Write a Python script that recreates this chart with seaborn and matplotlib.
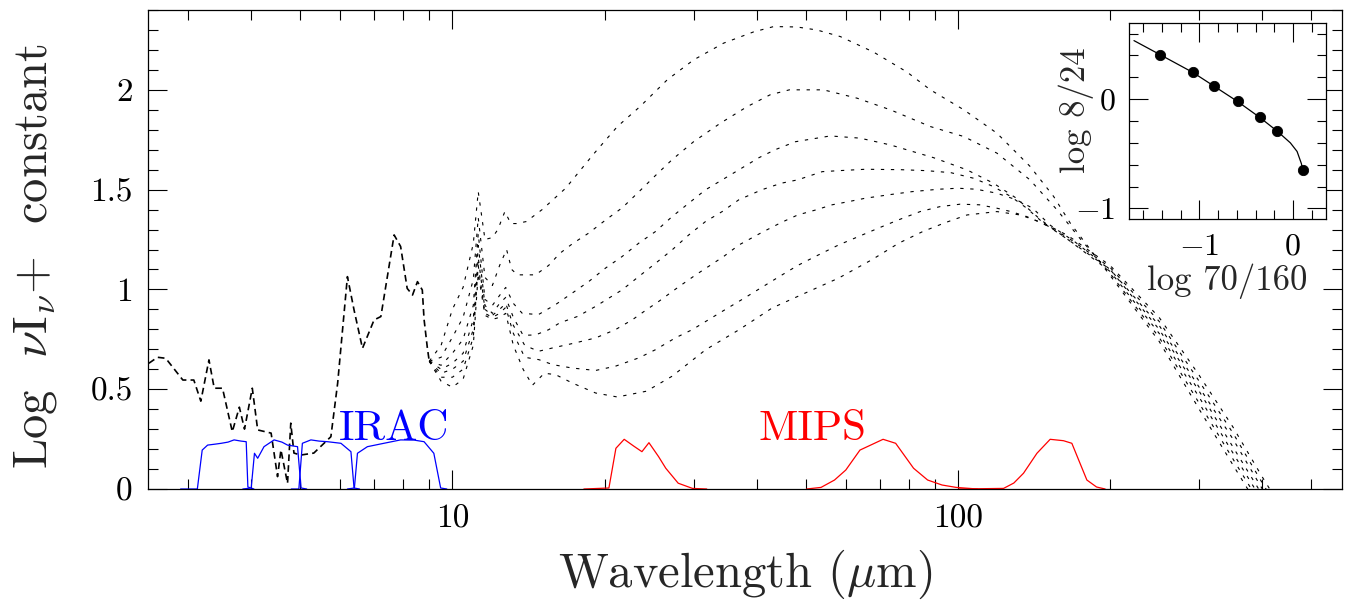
import seaborn as sns
import matplotlib.pyplot as plt
import matplotlib.ticker as mticker

sns.set_style("ticks")
plt.rcParams['font.family'] = ['cmr10', 'DejaVu Serif']
plt.rcParams['mathtext.fontset'] = 'cm'
plt.rcParams['axes.formatter.use_mathtext'] = True
plt.rcParams['axes.unicode_minus'] = False

# --- common short-wavelength part (starlight + PAH), dashed ---
wl_common = [2.51, 2.61, 2.71, 2.93, 3.08, 3.18, 3.30, 3.38, 3.51, 3.67, 3.79, 3.88, 4.02,
             4.12, 4.38, 4.51, 4.58, 4.72, 4.79, 4.86, 5.01, 5.32, 5.75, 5.93, 6.20, 6.39,
             6.64, 7.00, 7.22, 7.67, 7.90, 8.14, 8.34, 8.53, 8.72, 8.79, 8.92, 9.0]
sed_common = [0.63, 0.66, 0.655, 0.546, 0.546, 0.44, 0.647, 0.505, 0.505, 0.287, 0.41, 0.30,
              0.505, 0.296, 0.28, 0.062, 0.196, 0.028, 0.33, 0.18, 0.17, 0.18, 0.262, 0.53,
              1.064, 0.897, 0.705, 0.847, 0.864, 1.273, 1.215, 1.005, 0.972, 1.039, 0.997,
              0.85, 0.71, 0.64]

# --- seven model SEDs (top to bottom), dotted ---
wl_1 = [9.0, 9.5, 10.0, 10.5, 11.0, 11.25, 11.6, 12.0, 12.3, 12.7, 13.05, 13.4, 14.0, 15.05,
        16.75, 19.05, 21.2, 23.5, 26.6, 30.0, 34.4, 39.4, 43.2, 48.0, 52.6, 58.5, 68.0, 79.2,
        88.2, 102.7, 119.4, 138.8, 154.6, 167.0, 200, 250, 300, 350, 400, 440]
sed_1 = [0.64, 0.72, 0.90, 1.01, 1.23, 1.49, 1.25, 1.26, 1.30, 1.39, 1.33, 1.33, 1.34, 1.40,
         1.507, 1.68, 1.816, 1.916, 2.05, 2.15, 2.234, 2.29, 2.317, 2.315, 2.30, 2.267, 2.19,
         2.09, 2.0, 1.90, 1.783, 1.617, 1.466, 1.33, 1.07, 0.74, 0.40, 0.12, -0.12, -0.29]

wl_2 = [9.0, 9.5, 10.0, 10.5, 11.0, 11.25, 11.6, 12.0, 12.4, 12.8, 13.1, 13.45, 14.6, 15.5,
        16.3, 17.3, 18.6, 20.1, 21.7, 23.4, 25.2, 27.2, 30.0, 33.9, 38.3, 42.5, 46.4, 54.2,
        63.2, 73.5, 88.2, 102.7, 119.4, 138.8, 157, 175, 200, 250, 300, 350, 400, 440]
sed_2 = [0.64, 0.66, 0.76, 0.86, 1.05, 1.36, 1.06, 1.02, 1.12, 1.20, 1.10, 1.073, 1.073, 1.12,
         1.18, 1.23, 1.282, 1.348, 1.41, 1.49, 1.57, 1.65, 1.74, 1.833, 1.916, 1.975, 2.0, 2.0,
         1.958, 1.90, 1.816, 1.766, 1.683, 1.549, 1.399, 1.25, 1.08, 0.76, 0.43, 0.15, -0.09,
         -0.26]

wl_3 = [9.0, 9.5, 10.0, 10.5, 11.0, 11.25, 11.6, 12.0, 12.4, 12.75, 13.2, 13.75, 14.8, 16.0,
        17.27, 18.62, 20.09, 21.67, 23.38, 25.22, 27.21, 29.35, 31.67, 34.17, 36.86, 40.4,
        43.5, 47.7, 55.9, 64.0, 73.5, 89.5, 104.2, 117.6, 130.5, 145.6, 165, 200, 250, 300,
        350, 400, 440]
sed_3 = [0.64, 0.62, 0.68, 0.75, 0.92, 1.28, 0.95, 0.92, 0.97, 1.01, 0.93, 0.88, 0.874, 0.924,
         0.982, 1.04, 1.107, 1.165, 1.232, 1.29, 1.365, 1.432, 1.499, 1.549, 1.599, 1.66,
         1.70, 1.74, 1.769, 1.758, 1.724, 1.66, 1.599, 1.532, 1.457, 1.35, 1.25, 1.09, 0.78,
         0.46, 0.18, -0.06, -0.23]

wl_4 = [9.0, 9.5, 10.0, 10.5, 11.0, 11.25, 11.6, 12.0, 12.4, 12.75, 13.2, 13.8, 14.6, 15.5,
        16.3, 17.7, 19.2, 21.67, 23.38, 25.0, 27.2, 29.35, 31.67, 34.17, 36.86, 40.9, 44.7,
        48.2, 53.9, 58.1, 65.6, 76.9, 86.7, 96.8, 107.4, 117.6, 127.3, 136.8, 147.7, 165,
        200, 250, 300, 350, 400, 440]
sed_4 = [0.64, 0.60, 0.63, 0.68, 0.85, 1.22, 0.92, 0.88, 0.93, 0.96, 0.86, 0.77, 0.772, 0.798,
         0.832, 0.865, 0.915, 0.998, 1.065, 1.123, 1.198, 1.273, 1.34, 1.39, 1.449, 1.499,
         1.532, 1.549, 1.59, 1.595, 1.602, 1.60, 1.595, 1.585, 1.557, 1.515, 1.465, 1.407,
         1.332, 1.25, 1.10, 0.80, 0.49, 0.21, -0.03, -0.20]

wl_5 = [9.0, 9.5, 10.0, 10.5, 11.0, 11.25, 11.6, 12.0, 12.4, 12.75, 13.2, 13.9, 14.8, 15.8,
        17.5, 19.2, 21.0, 22.7, 24.2, 25.6, 28.1, 30.3, 34.4, 36.9, 40.9, 44.7, 48.2, 52.3,
        56.4, 60.8, 65.6, 72.9, 81.2, 91.6, 100, 108.7, 119.4, 130.5, 140.6, 152, 170, 200,
        250, 300, 350, 400, 440]
sed_5 = [0.64, 0.58, 0.60, 0.64, 0.80, 1.16, 0.90, 0.87, 0.90, 0.93, 0.82, 0.72, 0.69, 0.707,
         0.732, 0.757, 0.798, 0.848, 0.898, 0.94, 1.015, 1.073, 1.165, 1.223, 1.285, 1.335,
         1.373, 1.398, 1.424, 1.44, 1.457, 1.474, 1.49, 1.502, 1.507, 1.502, 1.482, 1.449,
         1.407, 1.323, 1.24, 1.10, 0.82, 0.51, 0.25, 0.0, -0.17]

wl_6 = [9.0, 9.5, 10.0, 10.5, 11.0, 11.25, 11.6, 12.0, 12.4, 12.75, 13.2, 13.9, 14.83, 15.8,
        17.27, 19.2, 21.0, 23.38, 25.22, 27.6, 29.8, 32.2, 34.7, 38.0, 40.9, 44.7, 48.2, 52.7,
        58.1, 63.6, 69.6, 76.2, 84.2, 92.2, 101, 110.3, 119.4, 127.3, 136.8, 147.7, 165, 200,
        250, 300, 350, 400, 440]
sed_6 = [0.64, 0.56, 0.56, 0.60, 0.76, 1.12, 0.88, 0.86, 0.88, 0.91, 0.78, 0.66, 0.648, 0.623,
         0.606, 0.594, 0.615, 0.657, 0.698, 0.757, 0.798, 0.85, 0.90, 0.96, 1.01, 1.07, 1.12,
         1.17, 1.223, 1.265, 1.307, 1.348, 1.39, 1.415, 1.427, 1.424, 1.407, 1.39, 1.365,
         1.328, 1.26, 1.11, 0.84, 0.54, 0.28, 0.03, -0.14]

wl_7 = [9.0, 9.5, 10.0, 10.5, 11.0, 11.25, 11.6, 12.0, 12.4, 12.75, 13.2, 13.8, 14.4, 15.2,
        16.0, 17.27, 19.2, 21.2, 24.2, 27.2, 31.7, 36.9, 42.9, 49.9, 58.1, 67.6, 76.4, 85.2,
        94.5, 104.2, 119.4, 132.8, 147.7, 165, 200, 250, 300, 350, 400, 440]
sed_7 = [0.64, 0.54, 0.51, 0.55, 0.72, 1.08, 0.87, 0.85, 0.86, 0.88, 0.72, 0.60, 0.52, 0.58,
         0.573, 0.531, 0.481, 0.461, 0.49, 0.565, 0.698, 0.798, 0.907, 0.982, 1.057, 1.149,
         1.232, 1.29, 1.335, 1.373, 1.39, 1.373, 1.332, 1.27, 1.12, 0.86, 0.57, 0.31, 0.06,
         -0.11]

# --- filter transmission curves ---
irac1_wl = [2.9, 3.13, 3.20, 3.28, 3.40, 3.49, 3.60, 3.70, 3.82, 3.91, 3.94, 4.05]
irac1_t = [0, 0.0, 0.195, 0.22, 0.225, 0.229, 0.235, 0.246, 0.24, 0.237, 0.01, 0]
irac2_wl = [3.85, 4.00, 4.06, 4.12, 4.24, 4.44, 4.60, 4.72, 4.94, 5.02, 5.15]
irac2_t = [0, 0.005, 0.179, 0.154, 0.212, 0.246, 0.235, 0.22, 0.212, 0.005, 0]
irac3_wl = [4.8, 4.97, 5.05, 5.25, 5.45, 5.66, 6.02, 6.30, 6.39, 6.55]
irac3_t = [0, 0.0, 0.229, 0.246, 0.24, 0.237, 0.229, 0.187, 0.005, 0]
irac4_wl = [6.2, 6.40, 6.49, 6.79, 7.32, 7.9, 8.4, 8.79, 9.19, 9.48, 9.75]
irac4_t = [0, 0.005, 0.179, 0.212, 0.229, 0.246, 0.245, 0.237, 0.179, 0.005, 0]

mips24_wl = [18.2, 20.4, 21.06, 21.87, 22.84, 23.71, 24.48, 25.58, 26.43, 27.97, 29.85, 31.85]
mips24_t = [0, 0.005, 0.204, 0.249, 0.215, 0.187, 0.232, 0.162, 0.104, 0.029, 0.003, 0]
mips70_wl = [50.2, 53.6, 57.0, 60.0, 64.0, 71.1, 75.3, 81.7, 87.1, 93.0, 99.2, 109.3]
mips70_t = [0, 0.008, 0.045, 0.095, 0.195, 0.249, 0.229, 0.104, 0.045, 0.02, 0.008, 0.0]
mips160_wl = [100.3, 123.1, 129, 134.8, 143.3, 152.2, 161.7, 168.0, 173, 179.9, 188, 195.5]
mips160_t = [0, 0.003, 0.03, 0.079, 0.179, 0.249, 0.242, 0.229, 0.15, 0.045, 0.01, 0.0]

# --- inset: colour-colour track ---
track_x = [-1.70, -1.418, -1.071, -0.842, -0.593, -0.357, -0.167, -0.028, 0.044, 0.09, 0.104]
track_y = [0.536, 0.406, 0.245, 0.118, -0.021, -0.166, -0.294, -0.40, -0.479, -0.59, -0.648]
color_x = [-1.418, -1.071, -0.842, -0.593, -0.357, -0.167, 0.104]
color_y = [0.406, 0.245, 0.118, -0.021, -0.166, -0.294, -0.648]

fig = plt.figure(figsize=(13.59, 6.02), dpi=100)
ax = fig.add_axes([148 / 1359, 113 / 602, 1194 / 1359, 479 / 602])
ax.set_xscale('log')

sns.lineplot(x=wl_common, y=sed_common, ax=ax, color='black', linewidth=1.2,
             linestyle=(0, (4, 2.5)), estimator=None, sort=False)
for wl, sed in [(wl_1, sed_1), (wl_2, sed_2), (wl_3, sed_3), (wl_4, sed_4),
                (wl_5, sed_5), (wl_6, sed_6), (wl_7, sed_7)]:
    sns.lineplot(x=wl, y=sed, ax=ax, color='black', linewidth=0.8,
                 linestyle=(0, (3, 6)), estimator=None, sort=False)

for wl, t in [(irac1_wl, irac1_t), (irac2_wl, irac2_t), (irac3_wl, irac3_t), (irac4_wl, irac4_t)]:
    sns.lineplot(x=wl, y=t, ax=ax, color='#0000ff', linewidth=0.9, estimator=None, sort=False)
for wl, t in [(mips24_wl, mips24_t), (mips70_wl, mips70_t), (mips160_wl, mips160_t)]:
    sns.lineplot(x=wl, y=t, ax=ax, color='#ff0000', linewidth=0.9, estimator=None, sort=False)

ax.text(7.66, 0.246, 'IRAC', color='#0000ff', fontsize=31, ha='center', va='baseline')
ax.text(51.5, 0.246, 'MIPS', color='#ff0000', fontsize=31, ha='center', va='baseline')

ax.set_xlim(2.5, 575)
ax.set_ylim(0, 2.4)
ax.xaxis.set_major_locator(mticker.FixedLocator([10, 100]))
ax.xaxis.set_major_formatter(mticker.FixedFormatter(['10', '100']))
ax.xaxis.set_minor_locator(mticker.FixedLocator([3, 4, 5, 6, 7, 8, 9, 20, 30, 40, 50, 60,
                                                 70, 80, 90, 200, 300, 400, 500]))
ax.xaxis.set_minor_formatter(mticker.NullFormatter())
ax.yaxis.set_major_locator(mticker.FixedLocator([0, 0.5, 1, 1.5, 2]))
ax.yaxis.set_major_formatter(mticker.FixedFormatter(['0', '0.5', '1', '1.5', '2']))
ax.yaxis.set_minor_locator(mticker.MultipleLocator(0.1))
ax.tick_params(which='both', direction='in', top=True, right=True, width=0.8,
               colors='black', labelsize=24)
ax.tick_params(which='major', length=14, pad=11)
ax.tick_params(which='minor', length=7)
for sp in ax.spines.values():
    sp.set_linewidth(0.9)
    sp.set_color('black')

ax.set_xlabel(r'Wavelength ($\mu$m)', fontsize=35)
ax.xaxis.label.set_va('center')
ax.xaxis.set_label_coords(0.5, -0.178)
ax.set_ylabel(r'Log  $\nu{\rm I}_\nu$+  constant', fontsize=35)
ax.yaxis.label.set_va('center')
ax.yaxis.set_label_coords(-0.0946, 0.485)

# inset
axin = fig.add_axes([1129.3 / 1359, 1 - 219.3 / 602, 196.4 / 1359, 196.6 / 602])
sns.lineplot(x=track_x, y=track_y, ax=axin, color='black', linewidth=0.9,
             estimator=None, sort=False)
sns.scatterplot(x=color_x, y=color_y, ax=axin, color='black', s=55, edgecolor='black',
                zorder=3)
axin.set_xlim(-1.75, 0.35)
axin.set_ylim(-1.1, 0.7)
axin.xaxis.set_major_locator(mticker.FixedLocator([-1, 0]))
axin.xaxis.set_major_formatter(mticker.FixedFormatter([r'$-1$', '0']))
axin.xaxis.set_minor_locator(mticker.FixedLocator([-1.6, -1.4, -1.2, -0.8, -0.6, -0.4,
                                                   -0.2, 0.2]))
axin.yaxis.set_major_locator(mticker.FixedLocator([-1, 0]))
axin.yaxis.set_major_formatter(mticker.FixedFormatter([r'$-1$', '0']))
axin.yaxis.set_minor_locator(mticker.FixedLocator([-0.8, -0.6, -0.4, -0.2, 0.2, 0.4, 0.6]))
axin.tick_params(which='both', direction='in', top=True, right=True, width=0.8,
                 colors='black', labelsize=23)
axin.tick_params(which='major', length=14, pad=10)
axin.tick_params(which='minor', length=6.5)
for sp in axin.spines.values():
    sp.set_linewidth(0.9)
    sp.set_color('black')
axin.set_xlabel('log 70/160', fontsize=25)
axin.xaxis.label.set_va('center')
axin.xaxis.set_label_coords(0.5, -0.315)
axin.set_ylabel('log 8/24', fontsize=25)
axin.yaxis.label.set_va('center')
axin.yaxis.set_label_coords(-0.268, 0.556)

fig.savefig('out.png', dpi=100)
plt.close(fig)
